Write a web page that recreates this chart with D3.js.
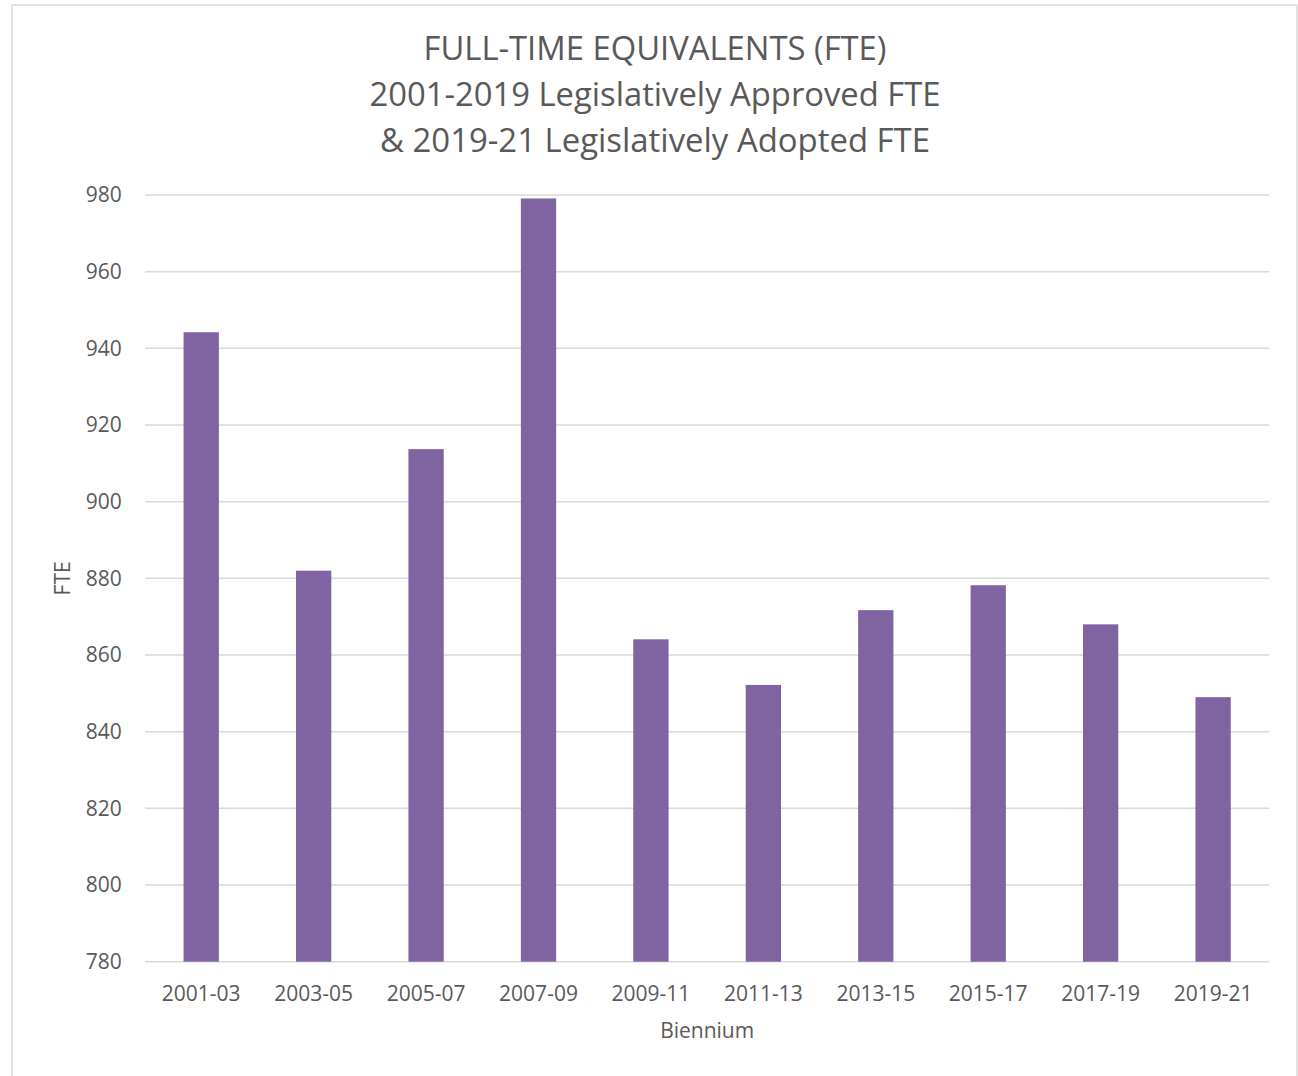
<!DOCTYPE html>
<html>
<head>
<meta charset="utf-8">
<script src="https://cdn.jsdelivr.net/npm/d3@7"></script>
<style>
  html, body { margin: 0; padding: 0; background: #ffffff; }
  svg { display: block; }
  text { font-family: "Open Sans", "Noto Sans", sans-serif; fill: #595959; }
</style>
</head>
<body>
<svg id="chart" width="1298" height="1076"></svg>
<script>
const categories = ["2001-03","2003-05","2005-07","2007-09","2009-11","2011-13","2013-15","2015-17","2017-19","2019-21"];
const fteValues = [944.2, 882.0, 913.7, 979.1, 864.1, 852.2, 871.7, 878.2, 868.0, 849.0];
const yTicks = [780, 800, 820, 840, 860, 880, 900, 920, 940, 960, 980];
const titleLines = ["FULL-TIME EQUIVALENTS (FTE)", "2001-2019 Legislatively Approved FTE", "& 2019-21 Legislatively Adopted FTE"];
const xAxisTitle = "Biennium";
const yAxisTitle = "FTE";

const svg = d3.select("#chart");
const W = 1298, H = 1076;
const plot = { left: 145, right: 1269.3, top: 195, bottom: 961.7 };

// outer frame
svg.append("rect")
  .attr("x", 12).attr("y", 5)
  .attr("width", 1285).attr("height", 1090)
  .attr("fill", "#ffffff")
  .attr("stroke", "#d9d9d9").attr("stroke-width", 1.5);

const x = d3.scaleBand()
  .domain(categories)
  .range([plot.left, plot.right])
  .paddingInner(0.686)
  .paddingOuter(0.343);

const y = d3.scaleLinear()
  .domain([780, 980])
  .range([plot.bottom, plot.top]);

// gridlines
svg.append("g")
  .selectAll("line")
  .data(yTicks)
  .join("line")
  .attr("x1", plot.left).attr("x2", plot.right)
  .attr("y1", d => y(d)).attr("y2", d => y(d))
  .attr("stroke", "#d9d9d9").attr("stroke-width", 1.5);

// bars
svg.append("g")
  .selectAll("rect")
  .data(fteValues)
  .join("rect")
  .attr("x", (d, i) => x(categories[i]))
  .attr("width", x.bandwidth())
  .attr("y", d => y(d))
  .attr("height", d => y(780) - y(d))
  .attr("fill", "#8064a2");

// y axis
const yAxis = svg.append("g")
  .attr("transform", `translate(${plot.left},0)`)
  .call(d3.axisLeft(y).tickValues(yTicks).tickSize(0).tickPadding(23.3).tickFormat(d3.format("d")));
yAxis.select(".domain").remove();
yAxis.selectAll("text")
  .attr("font-size", 21)
  .attr("font-family", "'Open Sans', sans-serif")
  .attr("fill", "#595959");

// x axis
const xAxis = svg.append("g")
  .attr("transform", `translate(0,${plot.bottom})`)
  .call(d3.axisBottom(x).tickSize(0).tickPadding(24));
xAxis.select(".domain").remove();
xAxis.selectAll("text")
  .attr("font-size", 21)
  .attr("font-family", "'Open Sans', sans-serif")
  .attr("fill", "#595959");

// axis titles
svg.append("text")
  .attr("x", (plot.left + plot.right) / 2)
  .attr("y", 1038)
  .attr("text-anchor", "middle")
  .attr("font-size", 21)
  .text(xAxisTitle);

svg.append("text")
  .attr("transform", `translate(70,${(plot.top + plot.bottom) / 2}) rotate(-90)`)
  .attr("text-anchor", "middle")
  .attr("font-size", 21)
  .text(yAxisTitle);

// title
const titleBaselines = [60, 106, 152];
const titleWidths = [463, 571, 550];
svg.append("g")
  .selectAll("text")
  .data(titleLines)
  .join("text")
  .attr("x", 655)
  .attr("y", (d, i) => titleBaselines[i])
  .attr("text-anchor", "middle")
  .attr("font-size", 32)
  .attr("textLength", (d, i) => titleWidths[i])
  .attr("lengthAdjust", "spacingAndGlyphs")
  .text(d => d);
</script>
</body>
</html>
